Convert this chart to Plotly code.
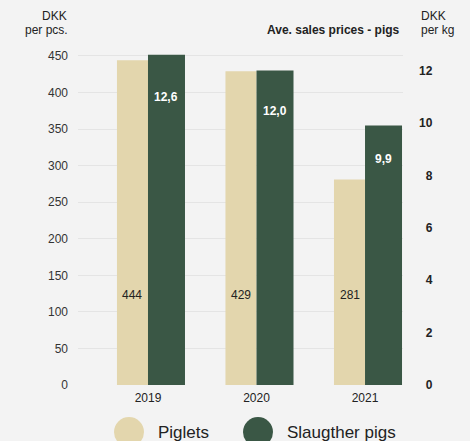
import plotly.graph_objects as go

years = ["2019", "2020", "2021"]
piglets = [444, 429, 281]          # DKK per pcs.
slaughter = [12.6, 12.0, 9.9]      # DKK per kg
piglet_labels = ["444", "429", "281"]
slaughter_labels = ["12,6", "12,0", "9,9"]
left_ticks = [0, 50, 100, 150, 200, 250, 300, 350, 400, 450]
right_ticks = [0, 2, 4, 6, 8, 10, 12]

BEIGE = "#E3D6AD"
GREEN = "#3A5745"
BG = "#F3F3F3"
FONT = "Arial, Liberation Sans, sans-serif"

# pixel layout of the plot area
L, R, T, B = 78, 403, 54, 385
W, H = 470, 441


def px(x):
    return (x - L) / (R - L)


def py(y):
    return (B - y) / (B - T)


P_OFF, P_W = -0.286, 0.286
S_OFF, S_W = 0.0, 0.341

fig = go.Figure()
fig.add_trace(go.Bar(
    x=years, y=piglets, name="Piglets", marker=dict(color=BEIGE, line=dict(width=0)),
    offset=P_OFF, width=P_W, yaxis="y", showlegend=False, hoverinfo="x+y",
))
fig.add_trace(go.Bar(
    x=years, y=slaughter, name="Slaugther pigs", marker=dict(color=GREEN, line=dict(width=0)),
    offset=S_OFF, width=S_W, yaxis="y2", showlegend=False, hoverinfo="x+y",
))

annotations = []
for i, t in enumerate(piglet_labels):
    annotations.append(dict(
        x=i + P_OFF + P_W / 2, y=123, xref="x", yref="y", text=t, showarrow=False,
        font=dict(family=FONT, size=12, color="#222222"), xanchor="center", yanchor="middle",
    ))
LABEL_FRAC = 0.872
for i, (v, t) in enumerate(zip(slaughter, slaughter_labels)):
    annotations.append(dict(
        x=i + S_OFF + S_W / 2, y=v * LABEL_FRAC, xref="x", yref="y2", text="<b>%s</b>" % t,
        showarrow=False, font=dict(family=FONT, size=12, color="#FFFFFF"),
        xanchor="center", yanchor="middle",
    ))

hdr = dict(family=FONT, size=12, color="#222222")
annotations += [
    dict(x=px(69), y=py(16), xref="paper", yref="paper", text="DKK", showarrow=False,
         xanchor="right", yanchor="middle", font=hdr),
    dict(x=px(70), y=py(30), xref="paper", yref="paper", text="per pcs.", showarrow=False,
         xanchor="right", yanchor="middle", font=hdr),
    dict(x=px(419), y=py(16), xref="paper", yref="paper", text="DKK", showarrow=False,
         xanchor="left", yanchor="middle", font=hdr),
    dict(x=px(419), y=py(30), xref="paper", yref="paper", text="per kg", showarrow=False,
         xanchor="left", yanchor="middle", font=hdr),
    dict(x=px(402), y=py(30.5), xref="paper", yref="paper", text="<b>Ave. sales prices - pigs</b>",
         showarrow=False, xanchor="right", yanchor="middle", font=hdr),
]

# custom legend (large circles)
legend_items = [("Piglets", BEIGE, 129, 156), ("Slaugther pigs", GREEN, 258, 285)]
shapes = []
for name, col, cx, tx in legend_items:
    shapes.append(dict(
        type="circle", xref="paper", yref="paper", xsizemode="pixel", ysizemode="pixel",
        xanchor=px(cx), yanchor=py(432), x0=-15, x1=15, y0=-15, y1=15,
        fillcolor=col, line=dict(width=0), layer="above",
    ))
    annotations.append(dict(
        x=px(tx), y=py(432), xref="paper", yref="paper", text=name, showarrow=False,
        xanchor="left", yanchor="middle", font=dict(family=FONT, size=17, color="#222222"),
    ))

right_text = [("\u2007" + str(v)) if v < 10 else str(v) for v in right_ticks]

fig.update_layout(
    width=W, height=H,
    margin=dict(l=L, r=W - R, t=T, b=H - B, pad=0),
    paper_bgcolor=BG, plot_bgcolor=BG,
    barmode="overlay",
    font=dict(family=FONT, size=12, color="#333333"),
    xaxis=dict(
        type="category", range=[-0.645, 2.35], showgrid=False, zeroline=False,
        showline=False, ticks="", tickfont=dict(size=12, color="#222222"),
        ticklabelstandoff=4, fixedrange=True,
    ),
    yaxis=dict(
        range=[0, 452.7], tickvals=left_ticks, showgrid=True, gridcolor="#E4E4E4",
        gridwidth=1, zeroline=False, showline=False, ticks="",
        tickfont=dict(size=12, color="#333333"), ticklabelstandoff=9,
    ),
    yaxis2=dict(
        overlaying="y", side="right", range=[0, 12.63], tickvals=right_ticks,
        ticktext=["<b>%s</b>" % s for s in right_text], showgrid=False, zeroline=False,
        showline=False, ticks="", tickfont=dict(size=12, color="#222222"),
        ticklabelstandoff=15,
    ),
    annotations=annotations,
    shapes=shapes,
    showlegend=False,
)

fig.write_html("out.html")
